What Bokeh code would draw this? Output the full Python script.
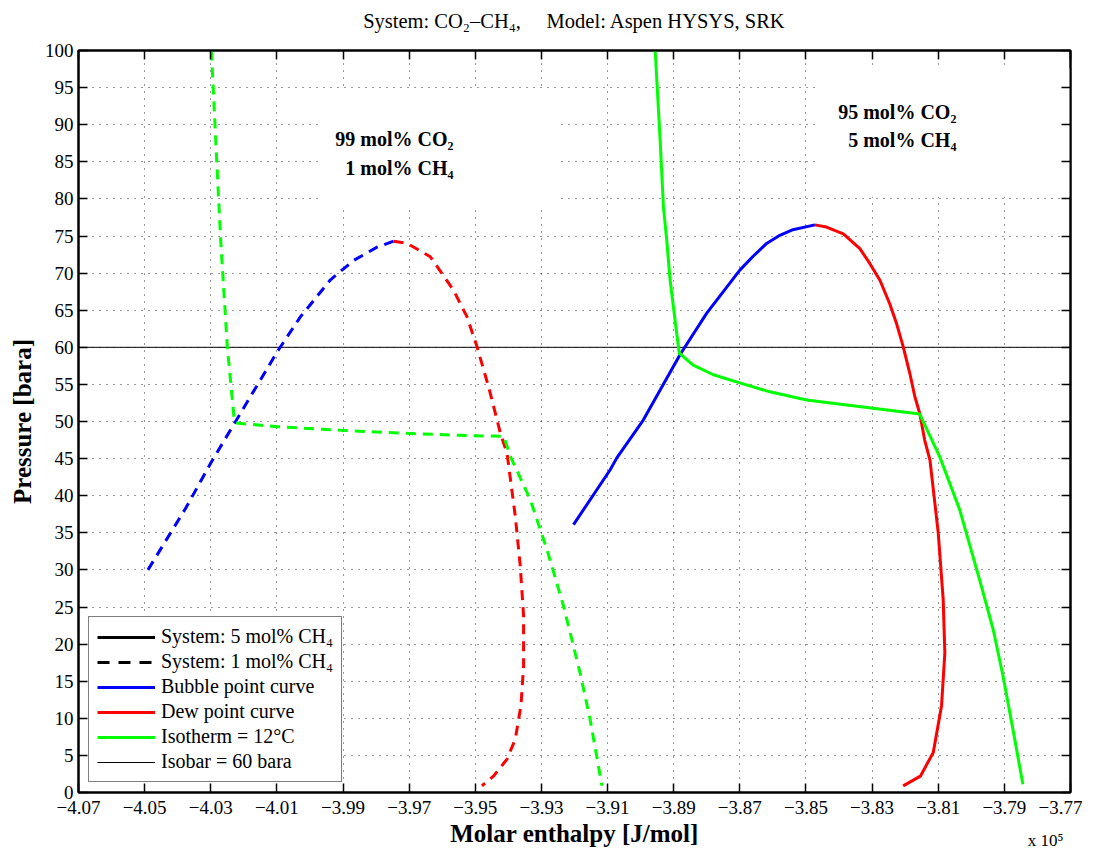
from bokeh.plotting import figure
from bokeh.models import (Range1d, LinearAxis, FixedTicker, CustomJSTickFormatter,
                          Legend, LegendItem)
from bokeh.core.properties import value
from bokeh.embed import file_html
from bokeh.resources import INLINE

FONT = "Liberation Serif"
NAN = float("nan")

# ---------------- data (enthalpy in 1e5 J/mol, pressure in bara) ----------------
# 99 mol% CO2 / 1 mol% CH4 system (dashed)
h_bub_1 = [-4.0490, -4.0376, -4.0300, -4.0225, -4.0099, -4.0029, -3.9938, -3.9868, -3.9797, -3.9747]
p_bub_1 = [30.0, 38.3, 44.4, 50.0, 59.4, 64.1, 69.1, 71.7, 73.5, 74.3]

h_dew_1 = [-3.9747, -3.9706, -3.9636, -3.9566, -3.9525, -3.9495, -3.9460, -3.9424, -3.9404,
           -3.9379, -3.9364, -3.9354, -3.9354, -3.9362, -3.9379, -3.9404, -3.9445, -3.9480]
p_dew_1 = [74.3, 74.0, 72.2, 67.7, 64.1, 60.1, 54.7, 48.4, 45.7,
           37.2, 30.5, 23.8, 17.0, 11.7, 7.2, 4.5, 2.2, 0.9]

h_iso_1 = [-4.0298, -4.0285, -4.0270, -4.0250, -4.0230, -4.0225, -4.0099, -3.9898, -3.9706,
           -3.9525, -3.9414, -3.9394, -3.9334, -3.9283, -3.9233, -3.9183, -3.9153, -3.9117]
p_iso_1 = [100.0, 87.9, 74.4, 60.1, 50.7, 49.8, 49.3, 48.8, 48.4,
           48.1, 48.0, 45.3, 39.5, 32.7, 25.1, 16.1, 9.9, 0.9]

# 95 mol% CO2 / 5 mol% CH4 system (solid)
h_bub_5 = [-3.9203, -3.9092, -3.9072, -3.8992, -3.8881, -3.8800, -3.8750, -3.8700,
           -3.8659, -3.8619, -3.8579, -3.8543, -3.8473]
p_bub_5 = [36.1, 43.5, 45.1, 50.2, 59.0, 64.6, 67.5, 70.4,
           72.3, 74.0, 75.1, 75.8, 76.5]

h_dew_5 = [-3.8473, -3.8438, -3.8387, -3.8337, -3.8307, -3.8276, -3.8247, -3.8226, -3.8206,
           -3.8186, -3.8171, -3.8156, -3.8141, -3.8125, -3.8100, -3.8085, -3.8080, -3.8090,
           -3.8115, -3.8154, -3.8206]
p_dew_5 = [76.5, 76.2, 75.3, 73.3, 71.3, 69.0, 65.9, 63.2, 60.1,
           56.5, 53.4, 51.1, 47.5, 44.8, 35.0, 26.0, 18.8, 11.7,
           5.4, 2.2, 0.9]

h_iso_5 = [-3.8956, -3.8941, -3.8931, -3.8921, -3.8911, -3.8901, -3.8891, -3.8883,
           -3.8841, -3.8780, -3.8700, -3.8609, -3.8498, -3.8297, -3.8156,
           -3.8096, -3.8035, -3.7975, -3.7934, -3.7904, -3.7874, -3.7844]
p_iso_5 = [100.0, 87.9, 78.9, 74.4, 69.1, 65.5, 61.9, 59.2,
           57.6, 56.3, 55.2, 54.0, 52.9, 51.8, 51.0,
           45.3, 38.1, 28.7, 22.0, 15.7, 8.5, 1.1]

isobar_p = 60.0

# axis ticks
x_ticks = [-4.07, -4.05, -4.03, -4.01, -3.99, -3.97, -3.95, -3.93,
           -3.91, -3.89, -3.87, -3.85, -3.83, -3.81, -3.79, -3.77]
x_tick_labels = ["\u22124.07", "\u22124.05", "\u22124.03", "\u22124.01", "\u22123.99", "\u22123.97",
                 "\u22123.95", "\u22123.93", "\u22123.91", "\u22123.89", "\u22123.87", "\u22123.85",
                 "\u22123.83", "\u22123.81", "\u22123.79", "\u22123.77"]
y_ticks = [0, 5, 10, 15, 20, 25, 30, 35, 40, 45, 50, 55, 60, 65, 70, 75, 80, 85, 90, 95, 100]

# annotations
ann_text = ["99 mol% CO\u2082", "1 mol% CH\u2084", "95 mol% CO\u2082", "5 mol% CH\u2084"]
ann_h = [-3.9566, -3.9566, -3.8045, -3.8045]
ann_p = [88.1, 84.2, 91.7, 87.9]

# white boxes behind the annotation texts (as in the original figure)
box_left = [-3.9974, -3.8467]
box_right = [-3.9243, -3.7700]
box_bottom = [78.8, 80.3]
box_top = [94.6, 97.6]

title_text = "System: CO\u2082\u2013CH\u2084,\u00a0\u00a0\u00a0\u00a0\u00a0Model: Aspen HYSYS, SRK"
exponent_text = "x 10\u2075"
exponent_h = -3.7775

x_min, x_max = x_ticks[0], x_ticks[-1]

# ---------------- figure ----------------
p = figure(width=1082, height=852,
           x_range=Range1d(x_min, x_max), y_range=Range1d(0, 100),
           output_backend="svg", toolbar_location=None,
           min_border_left=78, min_border_right=12,
           min_border_top=50, min_border_bottom=59)

bottom_axis = p.below[0]
left_axis = p.left[0]

p.outline_line_color = "black"
p.outline_line_width = 2
p.background_fill_color = "white"
p.border_fill_color = "white"

xticker = FixedTicker(ticks=x_ticks)
yticker = FixedTicker(ticks=y_ticks)

x_fmt = CustomJSTickFormatter(args=dict(vals=x_ticks, labs=x_tick_labels), code="""
    for (let i = 0; i < vals.length; i++) {
        if (Math.abs(vals[i] - tick) < 1e-9) { return labs[i]; }
    }
    return '';
""")
blank_fmt = CustomJSTickFormatter(code="return '';")

bottom_axis.ticker = xticker
bottom_axis.formatter = x_fmt
left_axis.ticker = yticker

top_axis = LinearAxis(ticker=xticker, formatter=blank_fmt)
right_axis = LinearAxis(ticker=yticker, formatter=blank_fmt)
p.add_layout(top_axis, "above")
p.add_layout(right_axis, "right")

for ax in [bottom_axis, left_axis, top_axis, right_axis]:
    ax.major_tick_in = 9
    ax.major_tick_out = 0
    ax.minor_tick_line_color = None
    ax.axis_line_width = 2
    ax.axis_line_color = "black"
    ax.major_tick_line_width = 1.5
    ax.major_tick_line_color = "black"
    ax.major_label_text_font = FONT
    ax.major_label_text_font_size = "19px"
    ax.major_label_text_color = "black"
    ax.major_label_standoff = 5

top_axis.major_label_standoff = 0
right_axis.major_label_standoff = 0
bottom_axis.major_label_standoff = 8

# title drawn as the label of the top axis
top_axis.axis_label = title_text
top_axis.axis_label_text_font = FONT
top_axis.axis_label_text_font_style = "normal"
top_axis.axis_label_text_font_size = "20.5px"
top_axis.axis_label_text_color = "black"
top_axis.axis_label_standoff = 19

bottom_axis.axis_label = "Molar enthalpy [J/mol]"
left_axis.axis_label = "Pressure [bara]"
for ax in [bottom_axis, left_axis]:
    ax.axis_label_text_font = FONT
    ax.axis_label_text_font_style = "bold"
    ax.axis_label_text_font_size = "25px"
    ax.axis_label_text_color = "black"
bottom_axis.axis_label_standoff = 3
left_axis.axis_label_standoff = 6

# "x 10^5" multiplier note, as a single tick label on an extra axis below
exp_fmt = CustomJSTickFormatter(args=dict(txt=exponent_text), code="return txt;")
exp_axis = LinearAxis(ticker=FixedTicker(ticks=[exponent_h]), formatter=exp_fmt)
exp_axis.axis_line_color = None
exp_axis.major_tick_line_color = None
exp_axis.minor_tick_line_color = None
exp_axis.major_tick_in = 0
exp_axis.major_tick_out = 0
exp_axis.major_label_text_font = FONT
exp_axis.major_label_text_font_size = "17px"
exp_axis.major_label_text_color = "black"
exp_axis.major_label_standoff = -19
p.add_layout(exp_axis, "below")

p.xgrid.ticker = xticker
p.ygrid.ticker = yticker
for g in [p.xgrid[0], p.ygrid[0]]:
    g.grid_line_color = "black"
    g.grid_line_alpha = 0.8
    g.grid_line_width = 1
    g.grid_line_dash = "1 6"

# white masks behind annotation texts
p.quad(left=box_left, right=box_right, bottom=box_bottom, top=box_top,
       fill_color="white", line_color=None)

# isobar
r_isobar = p.line([x_min, x_max], [isobar_p, isobar_p], line_color="black", line_width=1)

DASH = "10 7"
LW = 3
BLUE, RED, GREEN = "#0000ff", "#ff0000", "#00ff00"

# 1 mol% CH4 (dashed)
p.line(h_bub_1, p_bub_1, line_color=BLUE, line_width=LW, line_dash=DASH)
p.line(h_dew_1, p_dew_1, line_color=RED, line_width=LW, line_dash=DASH)
p.line(h_iso_1, p_iso_1, line_color=GREEN, line_width=LW, line_dash=DASH)

# 5 mol% CH4 (solid)
r_bub = p.line(h_bub_5, p_bub_5, line_color=BLUE, line_width=LW)
r_dew = p.line(h_dew_5, p_dew_5, line_color=RED, line_width=LW)
r_iso = p.line(h_iso_5, p_iso_5, line_color=GREEN, line_width=LW)

# legend-only renderers (no visible data)
r_sys5 = p.line(x=[NAN, NAN], y=[NAN, NAN], line_color="black", line_width=LW)
r_sys1 = p.line(x=[NAN, NAN], y=[NAN, NAN], line_color="black", line_width=LW, line_dash="12 9")

# annotation texts
p.text(x=ann_h, y=ann_p, text=ann_text, text_align="right", text_baseline="middle",
       text_font=value(FONT), text_font_style="bold", text_font_size="20px",
       text_color="black")

legend = Legend(items=[
    LegendItem(label="System: 5 mol% CH\u2084", renderers=[r_sys5]),
    LegendItem(label="System: 1 mol% CH\u2084", renderers=[r_sys1]),
    LegendItem(label="Bubble point curve", renderers=[r_bub]),
    LegendItem(label="Dew point curve", renderers=[r_dew]),
    LegendItem(label="Isotherm = 12\u00b0C", renderers=[r_iso]),
    LegendItem(label="Isobar = 60 bara", renderers=[r_isobar]),
], location="bottom_left")
legend.label_text_font = FONT
legend.label_text_font_size = "20px"
legend.label_text_color = "black"
legend.glyph_width = 58
legend.glyph_height = 20
legend.label_height = 20
legend.label_standoff = 6
legend.spacing = 2
legend.padding = 8
legend.margin = 10
legend.border_line_color = "black"
legend.border_line_width = 1.5
legend.background_fill_color = "white"
legend.background_fill_alpha = 1.0
p.add_layout(legend)

open("out.html", "w").write(file_html(p, INLINE))
